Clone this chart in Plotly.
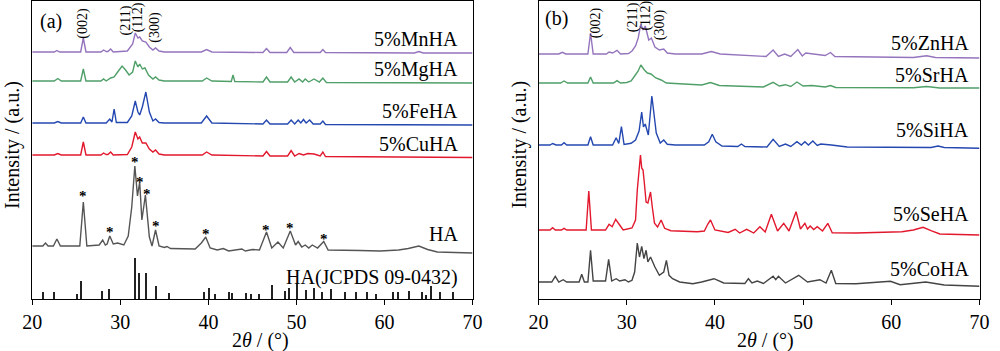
import numpy as np
import plotly.graph_objects as go

# ---------------- Panel (a) data (2theta in degrees, intensity in arbitrary units) ----------------
mn_x = [20, 22.5, 22.8, 23.1, 25.5, 25.8, 26.1, 27.8, 28.1, 28.4, 28.6, 28.9, 29.2, 30.8, 31.4, 31.7, 32.0, 32.2, 32.5, 32.9, 33.3, 33.7, 34.0, 34.4, 35.0, 39.2, 39.8, 40.4, 46.2, 46.6, 47.0, 48.9, 49.3, 49.7, 52.7, 53.0, 53.3, 63.4, 63.9, 64.4, 70]
mn_y = [0, 0, 1.5, 0, 0, 14, 0, 0, 2, 0.5, 0.5, 3, 0, 1, 8, 19, 14, 15, 11, 10, 5, 2, 4, 1, 0, 0, 2.5, 0, -0.5, 3.5, -0.5, -0.5, 4.5, -0.5, -0.5, 2.5, -0.5, -1, 0.5, -1, -1]

mg_x = [20, 22.5, 22.9, 23.3, 25.5, 25.8, 26.1, 27.8, 28.1, 28.4, 28.9, 29.3, 29.7, 30.2, 30.6, 31.0, 31.4, 31.7, 32.0, 32.2, 32.5, 32.8, 33.2, 33.7, 34.0, 34.4, 35.0, 39.3, 39.8, 40.4, 42.6, 42.8, 43.0, 46.2, 46.6, 47.0, 49.0, 49.4, 49.8, 50.3, 50.7, 51.0, 51.4, 52.0, 52.6, 53.0, 53.4, 70]
mg_y = [0, 0, 2.5, 0, 0, 12, 0, 0, 2, 0, 3, 4, 9, 15, 11, 6, 9, 20, 14, 17, 12, 13, 6, 2, 4, 1, 0, 0, 3, 0, -0.5, 6, -0.5, -1, 4, -1, -1, 4, -1, 2, -1, 2, -1, 2, -1, 3, -1.5, -2]

fe_x = [20, 22.5, 22.9, 23.3, 25.5, 25.8, 26.1, 28.4, 28.8, 29.05, 29.3, 29.55, 30.8, 31.3, 31.7, 32.0, 32.2, 32.5, 32.9, 33.3, 33.7, 34.0, 34.4, 35.0, 39.2, 39.8, 40.4, 46.2, 46.6, 47.0, 49.0, 49.4, 49.8, 50.2, 50.5, 50.8, 51.1, 51.5, 51.9, 52.7, 53.0, 53.3, 70]
fe_y = [0, 0, 1.5, 0, 0, 6, 0, 0, 4, 1, 14, 0.5, 0.5, 7, 22, 11, 8, 16, 31, 11, 2, 4, 0.5, 0, 0, 7, 0, -1, 3, -1, -1, 3, -1, 3, 0, 3.5, 0, 3, -1, -1, 2, -1.5, -2]

cu_x = [20, 22.5, 22.9, 23.3, 25.5, 25.8, 26.1, 27.8, 28.1, 28.4, 28.6, 28.9, 29.2, 30.8, 31.3, 31.7, 32.0, 32.2, 32.5, 32.9, 33.3, 33.7, 34.0, 34.4, 35.0, 39.3, 39.8, 40.4, 46.2, 46.6, 47.0, 49.0, 49.4, 49.8, 50.3, 50.8, 51.3, 52.0, 52.7, 53.0, 53.3, 70]
cu_y = [0, 0, 1.5, 0, 0, 13, 0, 0, 2, 0.5, 0.5, 3, 0, 0.5, 8, 23, 16, 18, 12, 12, 6, 3, 5, 1, 0, 0, 3, 0, -1, 3.5, -1, -1, 4.5, -1, 1.5, 0, 1.5, 1, -1, 3, -1.5, -2.5]

ha_x = [20, 21.2, 21.5, 21.8, 22.4, 22.8, 23.2, 25.4, 25.8, 26.2, 27.6, 28.0, 28.3, 28.5, 28.8, 29.2, 29.7, 30.4, 30.9, 31.3, 31.65, 31.95, 32.2, 32.45, 32.85, 33.3, 33.6, 34.0, 34.4, 35.0, 35.3, 35.7, 38.5, 39.2, 39.7, 40.2, 41.0, 41.7, 42.3, 43.4, 43.8, 44.2, 45.0, 45.8, 46.6, 47.2, 47.9, 48.5, 49.3, 49.9, 50.2, 50.6, 51.0, 51.4, 51.8, 52.4, 53.1, 53.6, 54.5, 55.8, 57.2, 59.5, 61.6, 62.7, 63.9, 64.9, 66.0, 70]
ha_y = [0, 0, 3, 0, 0, 7, 0, 0, 44, 0, 1, 6, 1, 2, 10, 2, 3, 1, 10, 39, 80, 50, 64, 26, 51, 9, 0, 16, 0, -1.5, -0.5, -2.5, -3, 3, 9, -2, -4, -2.5, -5, -4, -3, -5, -3.5, -4, 14, -2, 4, -2, 15, 1, 4.5, -1, 1, -2, 1, -2, 4.5, -4, -4, -4, -4.5, -5, -4, -2.5, 0, -3.5, -6, -7]

# JCPDS 09-0432 reference lines
stick_x = [21.3, 22.5, 25.1, 25.6, 27.9, 28.8, 31.7, 32.2, 32.9, 34.1, 35.6, 39.5, 40.1, 40.8, 42.4, 42.7, 44.3, 44.9, 45.8, 47.2, 48.7, 49.2, 50.1, 51.1, 52.0, 52.9, 54.0, 55.6, 56.8, 58.1, 59.1, 61.0, 61.6, 62.8, 64.3, 64.7, 65.3, 66.3, 67.8]
stick_h = [7, 7, 5, 18, 8, 10, 41, 26, 26, 13, 6, 7, 11, 5, 7, 6, 6, 5, 5, 14, 8, 11, 16, 9, 11, 7, 10, 7, 7, 7, 5, 7, 7, 8, 7, 4, 13, 7, 7]

star_x = [25.8, 28.8, 31.65, 32.2, 33.0, 34.0, 39.7, 46.6, 49.3, 53.1]
star_y = [106, 70, 140, 120, 108, 76, 68, 72, 74, 63]

# ---------------- Panel (b) data ----------------
zn_x = [20, 22.3, 22.7, 23.1, 25.6, 25.9, 26.2, 27.7, 28.0, 28.4, 28.9, 29.3, 30.2, 30.6, 31.0, 31.3, 31.6, 31.85, 32.1, 32.5, 32.8, 33.2, 33.7, 34.2, 34.6, 35.5, 38.5, 39.6, 40.6, 45.8, 46.6, 47.2, 47.9, 48.6, 49.4, 49.9, 50.3, 51.0, 52.5, 53.1, 53.6, 62.5, 64.0, 65.0, 70]
zn_y = [0, 0, 1.7, 0, 0, 21, 0, 0, 2, 1, 3.7, 0, 0.5, 3, 8, 16, 30, 24, 28, 14, 16, 7, 4, 5, 1, 0, 0, 2.5, 0, -2.5, 4, -2.5, 0, -2.5, 4.5, -2, 1, 0, -1.5, 1.5, -2.5, -3.5, -1.7, -3.5, -4]

sr_x = [20, 22.5, 22.9, 23.3, 25.6, 25.9, 26.2, 28.5, 28.9, 29.3, 30.0, 30.5, 30.9, 31.3, 31.6, 32.0, 32.35, 32.75, 33.3, 33.9, 34.5, 36.0, 38.5, 39.5, 40.5, 45.5, 46.6, 47.3, 48.0, 48.6, 49.3, 50.0, 51.0, 52.5, 53.1, 53.7, 62.5, 64.0, 65.5, 70]
sr_y = [0, 0, 2, 0, 0, 6, 0, 0, 2.3, 0, 0.5, 2, 7, 12, 18, 13, 10, 9, 5, 3, 0, -1, -2, 0.5, -2.5, -4, 0.6, -3, -1.7, -3.5, 1, -3, -2.5, -4, -2.5, -4.5, -4.8, -3.5, -5, -5]

si_x = [20, 21.3, 21.6, 22.0, 22.6, 22.9, 23.2, 25.6, 25.9, 26.2, 28.4, 28.8, 29.1, 29.4, 29.7, 30.5, 31.0, 31.4, 31.7, 31.9, 32.1, 32.45, 32.85, 33.35, 33.8, 34.2, 34.6, 35.5, 38.8, 39.3, 39.7, 40.1, 40.8, 42.6, 43.0, 43.4, 45.9, 46.6, 47.3, 48.0, 48.6, 49.3, 49.8, 50.2, 50.6, 51.1, 51.6, 52.0, 53.2, 55.0, 64.5, 65.3, 66.0, 70]
si_y = [0, 0, 1.5, 0, 0, 2.3, 0, 0, 8.3, 0, 0, 7.3, 1.5, 18.3, 0.5, 1.7, 5, 14, 33, 18, 21, 10, 49, 12, 2, 5, 0.7, 0, 0, 3.3, 10.7, 3.3, -1, -1.5, 1, -1.5, -2, 5.7, -1.5, 1, -1.5, 3.3, 0, 3.3, 0, 4, -0.5, 1, 0, -2, -2.5, -1, -2.5, -3.3]

se_x = [20, 21.3, 21.6, 21.9, 22.6, 22.9, 23.2, 25.4, 25.7, 26.0, 27.6, 28.0, 28.35, 28.75, 29.2, 29.6, 30.6, 31.0, 31.2, 31.4, 31.56, 31.7, 31.85, 32.0, 32.2, 32.4, 32.7, 32.9, 33.15, 33.5, 33.9, 34.3, 35.0, 38.0, 38.8, 39.2, 39.5, 40.0, 41.5, 42.3, 42.8, 43.6, 44.4, 45.1, 45.7, 46.4, 47.1, 47.8, 48.4, 49.2, 49.7, 50.2, 50.5, 50.8, 51.2, 51.6, 52.2, 52.8, 53.3, 56.0, 61.2, 62.5, 63.6, 64.5, 65.5, 70]
se_y = [0, 0, 2.3, 0, 0, 1.7, 0, 0, 39, 0, 0, 5.7, 3.3, 10.7, 5, 0, 2, 10, 40, 60, 75, 62, 60, 47, 28, 27, 38, 23, 6.7, 3, 10, 1.7, -0.7, -1.7, -1, 6, 10, 0, -2.5, 0.7, -3, 0.7, -3, 3.3, -2, 15.7, -1, 6.7, -1, 18.3, 1, 6.7, 1, 4, 0.5, 3.3, -1, 6.7, -2.7, -3, -1.7, 0, 2.7, -0.7, -4, -5]

co_x = [20, 21.5, 21.9, 22.3, 22.8, 23.2, 24.6, 24.9, 25.2, 25.6, 25.9, 26.2, 27.6, 27.95, 28.3, 28.8, 29.2, 29.8, 30.2, 30.6, 30.9, 31.2, 31.45, 31.7, 31.95, 32.2, 32.4, 32.7, 33.2, 33.7, 34.2, 34.5, 34.8, 35.2, 36.0, 37.5, 38.5, 39.9, 41.0, 43.4, 43.8, 44.2, 44.8, 45.5, 46.6, 46.9, 47.2, 48.0, 49.5, 49.9, 50.5, 51.9, 52.6, 53.2, 53.7, 56.0, 59.9, 61.0, 63.9, 66.0, 70]
co_y = [0, 0, 5.7, 0, 2.3, 0, 0, 7.7, 0, 0, 31.7, 1, 1, 22.7, 1, 3.3, 1, 2.3, 0, 1.7, 10, 39, 25, 35.7, 23.4, 31.7, 20, 25, 15, 6.7, 10, 21.7, 6.7, 3.3, 0, -1.7, 0, 3.3, -1, -1.5, 3.3, -1, 1, -1.5, 5.7, 2.3, 5.7, -1, 6.7, 4.3, 0, 2.3, -1, 11.7, -1.5, -1.7, 0.7, -2.7, 0, -3, -4.3]

a_names = ["5%MnHA", "5%MgHA", "5%FeHA", "5%CuHA", "HA"]
b_names = ["5%ZnHA", "5%SrHA", "5%SiHA", "5%SeHA", "5%CoHA"]
hkl_labels = ["(002)", "(211)", "(112)", "(300)"]
x_ticks = [20, 30, 40, 50, 60, 70]

# ---------------- styling / layout ----------------
FONT = "Liberation Serif"
PURPLE, GREEN, BLUE, RED = "#9474bd", "#4f9f68", "#2448b0", "#e2182d"
GRAY_A, GRAY_B = "#555555", "#444444"

a_series = [(mn_x, mn_y, 247, PURPLE), (mg_x, mg_y, 218, GREEN), (fe_x, fe_y, 176, BLUE),
            (cu_x, cu_y, 144, RED), (ha_x, ha_y, 53, GRAY_A)]
b_series = [(zn_x, zn_y, 245, PURPLE), (sr_x, sr_y, 216, GREEN), (si_x, si_y, 154, BLUE),
            (se_x, se_y, 69, RED), (co_x, co_y, 17, GRAY_B)]

fig = go.Figure()
for (xs, ys, off, col), name in zip(a_series, a_names):
    fig.add_trace(go.Scatter(x=xs, y=np.array(ys) + off, mode="lines", name=name,
                             line=dict(color=col, width=1.4), xaxis="x", yaxis="y"))
fig.add_trace(go.Bar(x=stick_x, y=stick_h, base=0, width=0.12, name="HA(JCPDS 09-0432)",
                     marker=dict(color="#222222", line=dict(width=0)), xaxis="x", yaxis="y"))
for (xs, ys, off, col), name in zip(b_series, b_names):
    fig.add_trace(go.Scatter(x=xs, y=np.array(ys) + off, mode="lines", name=name,
                             line=dict(color=col, width=1.4), xaxis="x2", yaxis="y2"))

ann = []
def txt(x, y, s, xref, yref, size=20, **kw):
    d = dict(x=x, y=y, text=s, xref=xref, yref=yref, showarrow=False,
             font=dict(family=FONT, size=size, color="black"))
    d.update(kw)
    ann.append(d)

# series labels
for name, yv in zip(a_names + ["HA(JCPDS 09-0432)"], [259.7, 229, 188, 154.7, 64.7, 21.3]):
    txt(68.6, yv, name, "x", "y", xanchor="right", yanchor="middle")
for name, yv in zip(b_names, [256, 224, 169, 85, 30]):
    txt(69.0, yv, name, "x2", "y2", xanchor="right", yanchor="middle")

# asterisks
for sx, sy in zip(star_x, star_y):
    txt(sx, sy - 3, "<b>*</b>", "x", "y", size=15, xanchor="center", yanchor="middle")

# hkl labels (rotated)
for lab, lx, ly in zip(hkl_labels, [25.8, 30.7, 32.1, 33.9], [275.7, 279, 281.5, 272]):
    txt(lx, ly, lab, "x", "y", size=14, textangle=-90, xanchor="center", yanchor="middle")
for lab, lx, ly in zip(hkl_labels, [26.55, 30.8, 32.2, 33.8], [276, 281.5, 283.5, 274]):
    txt(lx, ly, lab, "x2", "y2", size=14, textangle=-90, xanchor="center", yanchor="middle")

# panel labels
txt(0.042, 1 - 21 / 351, "(a)", "paper", "paper", xanchor="center", yanchor="middle")
txt(0.5575, 1 - 19 / 351, "(b)", "paper", "paper", xanchor="center", yanchor="middle")

# axis titles
for xc in [0.256, 0.771]:
    txt(xc, 1 - 340 / 351, "2<i>θ</i> / (°)", "paper", "paper", xanchor="center", yanchor="middle")
for xc in [0.003, 0.520]:
    txt(xc, 1 - 145 / 351, "Intensity / (a.u.)", "paper", "paper", textangle=-90,
        xanchor="center", yanchor="middle")

ydom = [(351 - 299) / 351, (351 - 1) / 351]
xax = dict(range=[20, 70], tickvals=x_ticks, ticks="outside", ticklen=5, tickwidth=1.2,
           tickcolor="black", showline=True, linecolor="black", linewidth=1.3, mirror=True,
           showgrid=False, zeroline=False,
           tickfont=dict(family=FONT, size=20, color="black"))
yax = dict(range=[0, 298], showticklabels=False, ticks="", showline=True, linecolor="black",
           linewidth=1.3, mirror=True, showgrid=False, zeroline=False, domain=ydom)

fig.update_layout(
    width=1000, height=351,
    margin=dict(l=0, r=0, t=0, b=0),
    paper_bgcolor="white", plot_bgcolor="white",
    showlegend=False,
    xaxis=dict(xax, domain=[22.7 / 1000, 472 / 1000], anchor="y"),
    yaxis=dict(yax, anchor="x"),
    xaxis2=dict(xax, domain=[539.3 / 1000, 989.3 / 1000], anchor="y2"),
    yaxis2=dict(yax, anchor="x2"),
    annotations=ann,
    bargap=0,
)

fig.write_html("out.html")
